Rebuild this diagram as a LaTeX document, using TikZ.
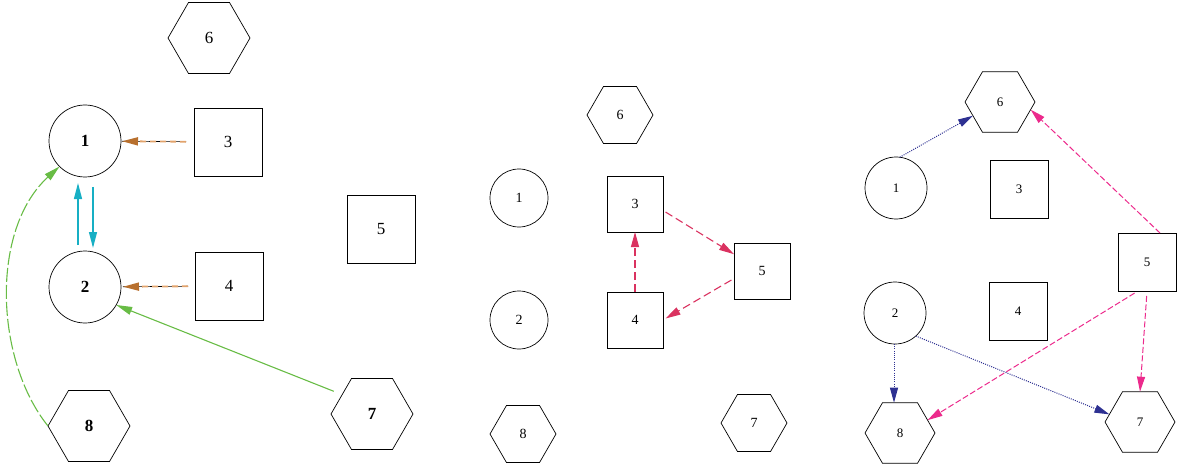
\documentclass[tikz,border=0pt]{standalone}
\usepackage{fontspec}
\setmainfont{Liberation Serif}
\usetikzlibrary{shapes.geometric, arrows.meta}
\definecolor{edgebrown}{HTML}{B8702E}
\definecolor{dashorange}{HTML}{E2A36C}
\definecolor{edgecyan}{HTML}{17AFC4}
\definecolor{edgegreen}{HTML}{68BC45}
\definecolor{edgecrimson}{HTML}{DA3260}
\definecolor{edgenavy}{HTML}{2E3192}
\definecolor{edgepink}{HTML}{EC2A8C}

\begin{document}
\begin{tikzpicture}[x=1pt, y=-1pt,
	vertex/.style={draw, inner sep=0pt, outer sep=0pt, line width=0.7pt},
	ring/.style={vertex, circle, minimum size=#1},
	box/.style={vertex, rectangle, minimum size=#1},
	hex/.style={vertex, regular polygon, regular polygon sides=6, minimum size=#1},
	tip/.style={-{Triangle[length=#1, width=8pt]}},
	brownedge/.style={-{Triangle[length=16pt, width=8pt, color=edgebrown]}, draw=dashorange, line width=1.8pt,
		dash pattern=on 6pt off 4pt, preaction={draw=black, line width=0.6pt, solid, -}},
	cyanedge/.style={tip=16pt, draw=edgecyan, line width=1.3pt},
	greenedge/.style={tip=16pt, draw=edgegreen, line width=1.1pt},
	crimsonedge/.style={tip=15pt, draw=edgecrimson, line width=1.1pt, dash pattern=on 8pt off 4pt},
	navyedge/.style={tip=15pt, draw=edgenavy, line width=1pt, dash pattern=on 1pt off 1.2pt},
	pinkedge/.style={tip=15pt, draw=edgepink, line width=1pt, dash pattern=on 6pt off 2.5pt}
]
	\useasboundingbox (0,0) rectangle (1177,465);

	% left panel
	\begin{scope}[font=\fontsize{17}{17}\selectfont]
		\node [ring=72pt] (n1) at (85,141) {\textbf{1}};
		\node [ring=72pt] (n2) at (85,287) {\textbf{2}};
		\node [box=68pt] (n3) at (228,142) {3};
		\node [box=68pt] (n4) at (229,286) {4};
		\node [box=68pt] (n5) at (381,229) {5};
		\node [hex=82pt] (n6) at (209,38) {6};
		\node [hex=82pt] (n7) at (372,414) {\textbf{7}};
		\node [hex=82pt] (n8) at (89,426) {\textbf{8}};
	\end{scope}
	\draw [brownedge, shorten <=8pt, shorten >=1pt] (n3) -- (n1);
	\draw [brownedge, shorten <=7pt, shorten >=2pt] (n4) -- (n2);
	\draw [cyanedge, shorten <=6pt, shorten >=6pt] ([xshift=-7pt]n2.north) -- ([xshift=-7pt]n1.south);
	\draw [cyanedge, shorten <=10pt, shorten >=3pt] ([xshift=8pt]n1.south) -- ([xshift=8pt]n2.north);
	\draw [greenedge, dash pattern=on 14pt off 3pt] (n8.west) .. controls (-5,360) and (-10,230) .. (n1.225);
	\draw [greenedge, shorten <=9pt] (n7.147) -- (n2.-30);

	% middle panel
	\begin{scope}[font=\fontsize{14}{14}\selectfont]
		\node [ring=58pt] (m1) at (519,198) {1};
		\node [ring=58pt] (m2) at (519,320) {2};
		\node [box=56pt] (m3) at (635,204) {3};
		\node [box=56pt] (m4) at (635,320) {4};
		\node [box=56pt] (m5) at (762,271) {5};
		\node [hex=66pt] (m6) at (620,115) {6};
		\node [hex=66pt] (m7) at (754,423) {7};
		\node [hex=66pt] (m8) at (523,434) {8};
	\end{scope}
	\draw [crimsonedge] (m4) -- (m3);
	\draw [crimsonedge, shorten <=3pt] (m3.-13) -- (m5.149);
	\draw [crimsonedge, shorten <=3pt, shorten >=3pt] (m5.195) -- (m4.east);

	% right panel
	\begin{scope}[font=\fontsize{13}{13}\selectfont]
		\node [ring=62pt] (r1) at (896,188) {1};
		\node [ring=62pt] (r2) at (895,313) {2};
		\node [box=58pt] (r3) at (1019,189) {3};
		\node [box=58pt] (r4) at (1018,311) {4};
		\node [box=58pt] (r5) at (1147,262) {5};
		\node [hex=70pt] (r6) at (1000,102) {6};
		\node [hex=70pt] (r7) at (1140,422) {7};
		\node [hex=70pt] (r8) at (900,433) {8};
	\end{scope}
	\draw [navyedge] (r1.83) -- (r6.207);
	\draw [navyedge] ([xshift=-1pt]r2.south) -- ([xshift=-6pt]r8.north);
	\draw [navyedge] (r2.-48) -- (r7.166);
	\draw [pinkedge] ([xshift=13pt]r5.north) -- (r6.-14);
	\draw [pinkedge, shorten <=4pt] ([xshift=-9pt]r5.south) -- (r8.25);
	\draw [pinkedge, shorten <=5pt] (r5.south) -- (r7.north);
\end{tikzpicture}
\end{document}
